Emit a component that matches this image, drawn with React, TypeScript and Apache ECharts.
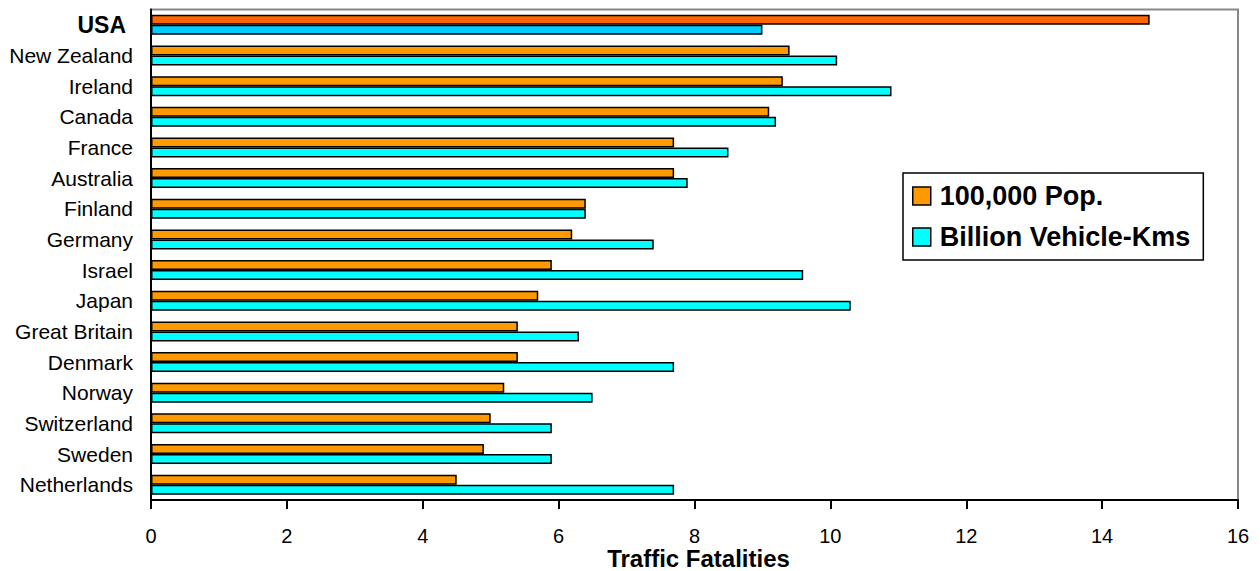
import React, { useEffect, useRef } from "react";
import * as echarts from "echarts";

const countries = [
  "USA",
  "New Zealand",
  "Ireland",
  "Canada",
  "France",
  "Australia",
  "Finland",
  "Germany",
  "Israel",
  "Japan",
  "Great Britain",
  "Denmark",
  "Norway",
  "Switzerland",
  "Sweden",
  "Netherlands",
];

const perPopulation = [14.7, 9.4, 9.3, 9.1, 7.7, 7.7, 6.4, 6.2, 5.9, 5.7, 5.4, 5.4, 5.2, 5.0, 4.9, 4.5];
const perVehicleKms = [9.0, 10.1, 10.9, 9.2, 8.5, 7.9, 6.4, 7.4, 9.6, 10.3, 6.3, 7.7, 6.5, 5.9, 5.9, 7.7];

const xTicks = { min: 0, max: 16, interval: 2 };

const seriesNames = ["100,000 Pop.", "Billion Vehicle-Kms"];
const baseColors = ["#FF9900", "#00FFFF"];
const highlightColors = ["#FF6600", "#00CCFF"];
const highlightCountry = "USA";

const FONT = "'Liberation Sans', Arial, Helvetica, sans-serif";

export default function App() {
  const ref = useRef<HTMLDivElement>(null);

  useEffect(() => {
    if (!ref.current) return;
    const chart = echarts.init(ref.current, undefined, { renderer: "svg" });

    const mkData = (vals: number[], idx: number) =>
      vals.map((v, i) =>
        countries[i] === highlightCountry
          ? { value: v, itemStyle: { color: highlightColors[idx] } }
          : v
      );

    chart.setOption({
      animation: false,
      backgroundColor: "#ffffff",
      textStyle: { fontFamily: FONT },
      grid: {
        left: 151,
        right: 22,
        top: 9.5,
        bottom: 71,
        show: true,
        borderColor: "#888888",
        borderWidth: 2,
        backgroundColor: "transparent",
        containLabel: false,
        outerBoundsMode: "none",
      },
      legend: {
        orient: "vertical",
        left: 903,
        top: 173,
        icon: "rect",
        itemWidth: 18,
        itemHeight: 18,
        itemGap: 11,
        padding: [8, 13, 8, 9],
        borderColor: "#000",
        borderWidth: 1.5,
        backgroundColor: "#fff",
        itemStyle: { borderColor: "#000", borderWidth: 1.5 },
        textStyle: {
          fontFamily: FONT,
          fontSize: 27,
          fontWeight: "bold",
          color: "#000",
          lineHeight: 30,
          padding: [0, 0, 0, 4],
        },
        data: seriesNames,
      },
      xAxis: {
        type: "value",
        min: xTicks.min,
        max: xTicks.max,
        interval: xTicks.interval,
        name: "Traffic Fatalities",
        nameLocation: "middle",
        nameGap: 46,
        nameMoveOverlap: false,
        nameTextStyle: {
          fontFamily: FONT,
          fontSize: 24,
          fontWeight: "bold",
          color: "#000",
          padding: [0, 0, 0, 8],
        },
        axisLine: { show: true, lineStyle: { color: "#000", width: 2 } },
        axisTick: { show: true, length: 9, lineStyle: { color: "#000", width: 2 } },
        axisLabel: { fontFamily: FONT, fontSize: 20, color: "#000", margin: 26 },
        splitLine: { show: false },
      },
      yAxis: {
        type: "category",
        inverse: true,
        data: countries,
        axisLine: { show: true, lineStyle: { color: "#000", width: 2 } },
        axisTick: { show: false },
        axisLabel: {
          fontFamily: FONT,
          fontSize: 21,
          color: "#000",
          margin: 18,
          formatter: (v: string) => (v === highlightCountry ? `{b|${v}}` : v),
          rich: {
            b: {
              fontFamily: FONT,
              fontSize: 23,
              fontWeight: "bold",
              color: "#000",
              padding: [0, 7, 0, 0],
            },
          },
        },
        splitLine: { show: false },
      },
      series: [
        {
          name: seriesNames[0],
          type: "bar",
          barWidth: 10,
          barGap: "0%",
          itemStyle: { color: baseColors[0], borderColor: "#000", borderWidth: 1.5 },
          data: mkData(perPopulation, 0),
        },
        {
          name: seriesNames[1],
          type: "bar",
          barWidth: 10,
          barGap: "0%",
          itemStyle: { color: baseColors[1], borderColor: "#000", borderWidth: 1.5 },
          data: mkData(perVehicleKms, 1),
        },
      ],
    });

    return () => chart.dispose();
  }, []);

  return (
    <div
      ref={ref}
      style={{ position: "fixed", left: 0, top: 0, width: 1260, height: 571, background: "#fff" }}
    />
  );
}
